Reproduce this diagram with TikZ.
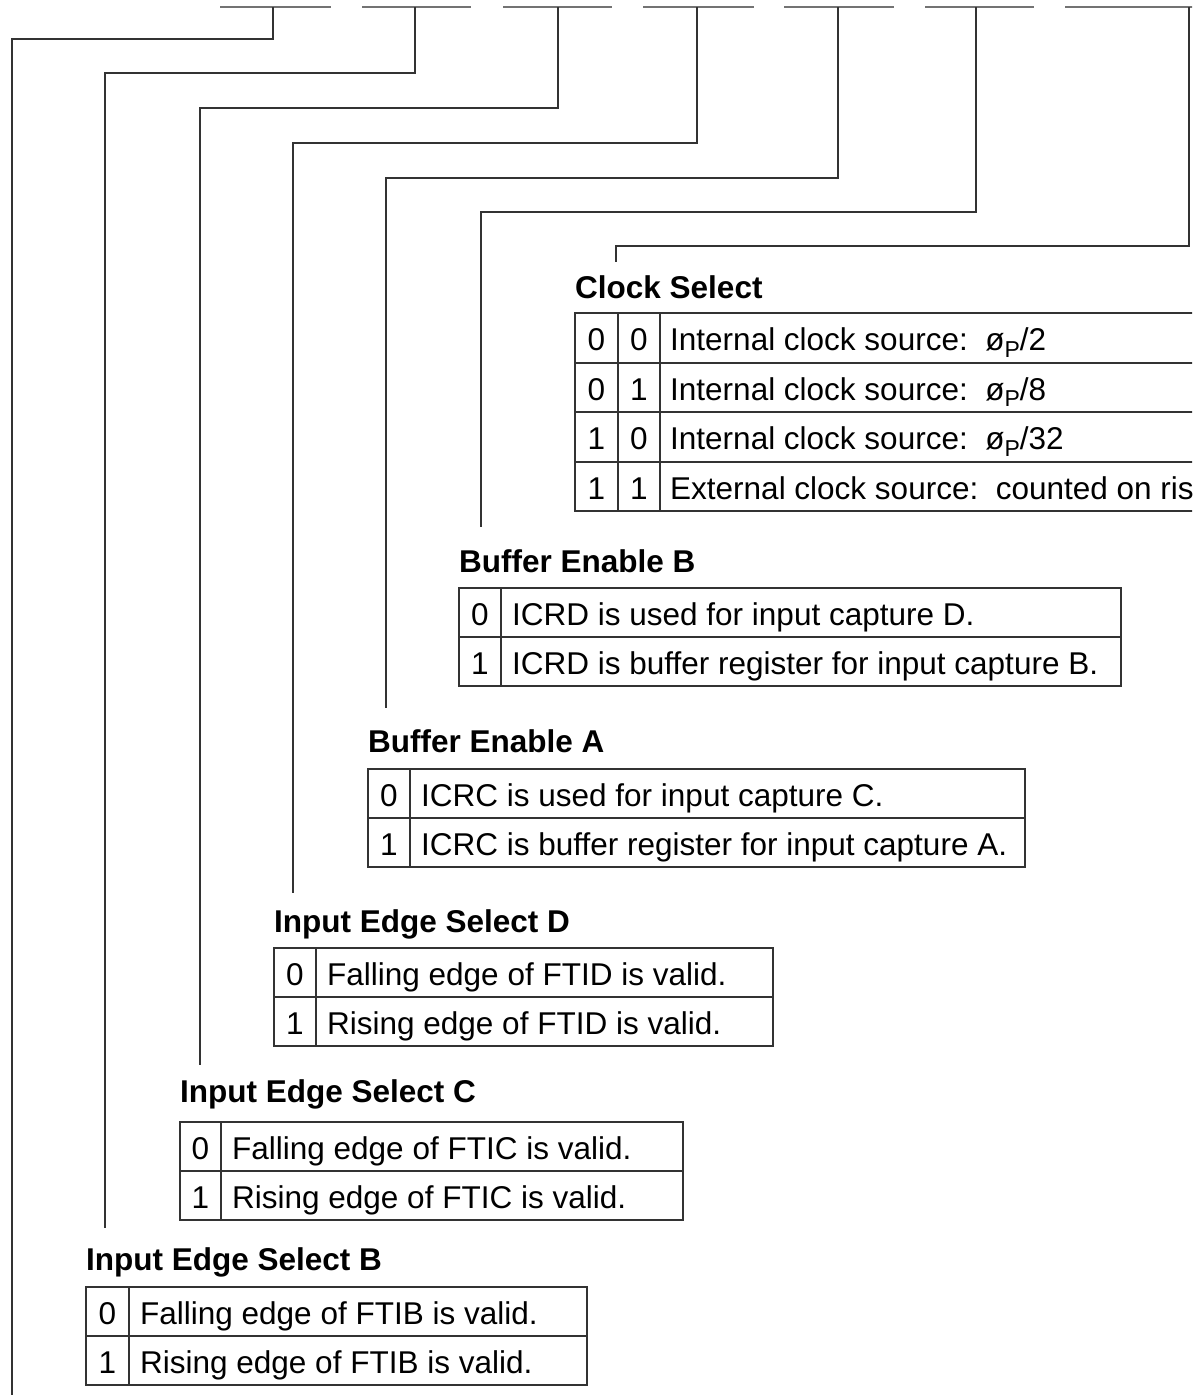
\documentclass[tikz,border=0pt]{standalone}
\usepackage{fontspec}
\setmainfont{Liberation Sans}
\begin{document}
\begin{tikzpicture}[x=1pt,y=-1pt,
  wire/.style={line width=1.3pt,draw=black!80},
  bar/.style={line width=2pt,draw=black!55},
  tbl/.style={line width=1.2pt,draw=black!80},
  ttl/.style={anchor=base west,inner sep=0pt,font=\fontsize{31.5}{36}\selectfont\bfseries},
  cell/.style={anchor=base west,inner sep=0pt,font=\fontsize{31.5}{36}\selectfont},
  num/.style={anchor=base,inner sep=0pt,font=\fontsize{31.5}{36}\selectfont}]
\newcommand\phiP{ø\raisebox{-0.22em}{\fontsize{23}{24}\selectfont P}}
\useasboundingbox (0,0) rectangle (1192,1395);
\clip (0,0) rectangle (1192,1395);
% top bit bars
\foreach \a/\b [count=\i] in {220/331,362/471,503/612,643/754,784/894,925/1034,1065/1195}{
  \coordinate (barL\i) at (\a,7);
  \coordinate (barR\i) at (\b,7);
  \draw[bar] (barL\i) -- (barR\i);
}
% connectors
\foreach \bx/\hy/\lx/\ey [count=\i] in {273/39/12/1398,415/73/105/1228,558/108/200/1065,697/143/293/893,838/178/386/708,976/212/481/527,1189/246/616/262}{
  \coordinate (top\i) at (\bx,7);
  \coordinate (end\i) at (\lx,\ey);
  \draw[wire] (top\i) |- (\lx,\hy) -- (end\i);
}
% two-row tables: name / x0 / div / x1 / top / title baseline / title / row0 / row1
\newcommand\twotable[9]{%
  \draw[tbl] (#2,#5) rectangle (#4,#5+98);
  \draw[tbl] (#2,#5+49) -- (#4,#5+49);
  \draw[tbl] (#3,#5) -- (#3,#5+98);
  \node[ttl] (#1t) at (#2,#6) {#7};
  \node[num] (#1n0) at ({(#2+#3)/2},#5+37) {0};
  \node[num] (#1n1) at ({(#2+#3)/2},#5+86) {1};
  \node[cell] (#1r0) at (#3+11,#5+37) {#8};
  \node[cell] (#1r1) at (#3+11,#5+86) {#9};
}
\twotable{bb}{459}{501}{1121}{588}{572}{Buffer Enable B}{ICRD is used for input capture D.}{ICRD is buffer register for input capture B.}
\twotable{ba}{368}{410}{1025}{769}{752}{Buffer Enable A}{ICRC is used for input capture C.}{ICRC is buffer register for input capture A.}
\twotable{ied}{274}{316}{773}{948}{932}{Input Edge Select D}{Falling edge of FTID is valid.}{Rising edge of FTID is valid.}
\twotable{iec}{180}{221}{683}{1122}{1102}{Input Edge Select C}{Falling edge of FTIC is valid.}{Rising edge of FTIC is valid.}
\twotable{ieb}{86}{129}{587}{1287}{1270}{Input Edge Select B}{Falling edge of FTIB is valid.}{Rising edge of FTIB is valid.}
% clock select table
\node[ttl] (cst) at (575,298) {Clock Select};
\draw[tbl] (1300,313) -- (575,313) -- (575,511) -- (1300,511);
\foreach \y in {363,412,462}{\draw[tbl] (575,\y) -- (1300,\y);}
\draw[tbl] (618,313) -- (618,511);
\draw[tbl] (660,313) -- (660,511);
\foreach \a/\b/\t [count=\i] in {0/0/{Internal clock source:\ \ \phiP/2},0/1/{Internal clock source:\ \ \phiP/8},1/0/{Internal clock source:\ \ \phiP/32},1/1/{External clock source:\ \ counted on rising edge}}{
  \node[num] (csa\i) at (596.5,313+49.5*\i-12) {\a};
  \node[num] (csb\i) at (639,313+49.5*\i-12) {\b};
  \node[cell] (cst\i) at (670,313+49.5*\i-12) {\t};
}
\end{tikzpicture}
\end{document}
